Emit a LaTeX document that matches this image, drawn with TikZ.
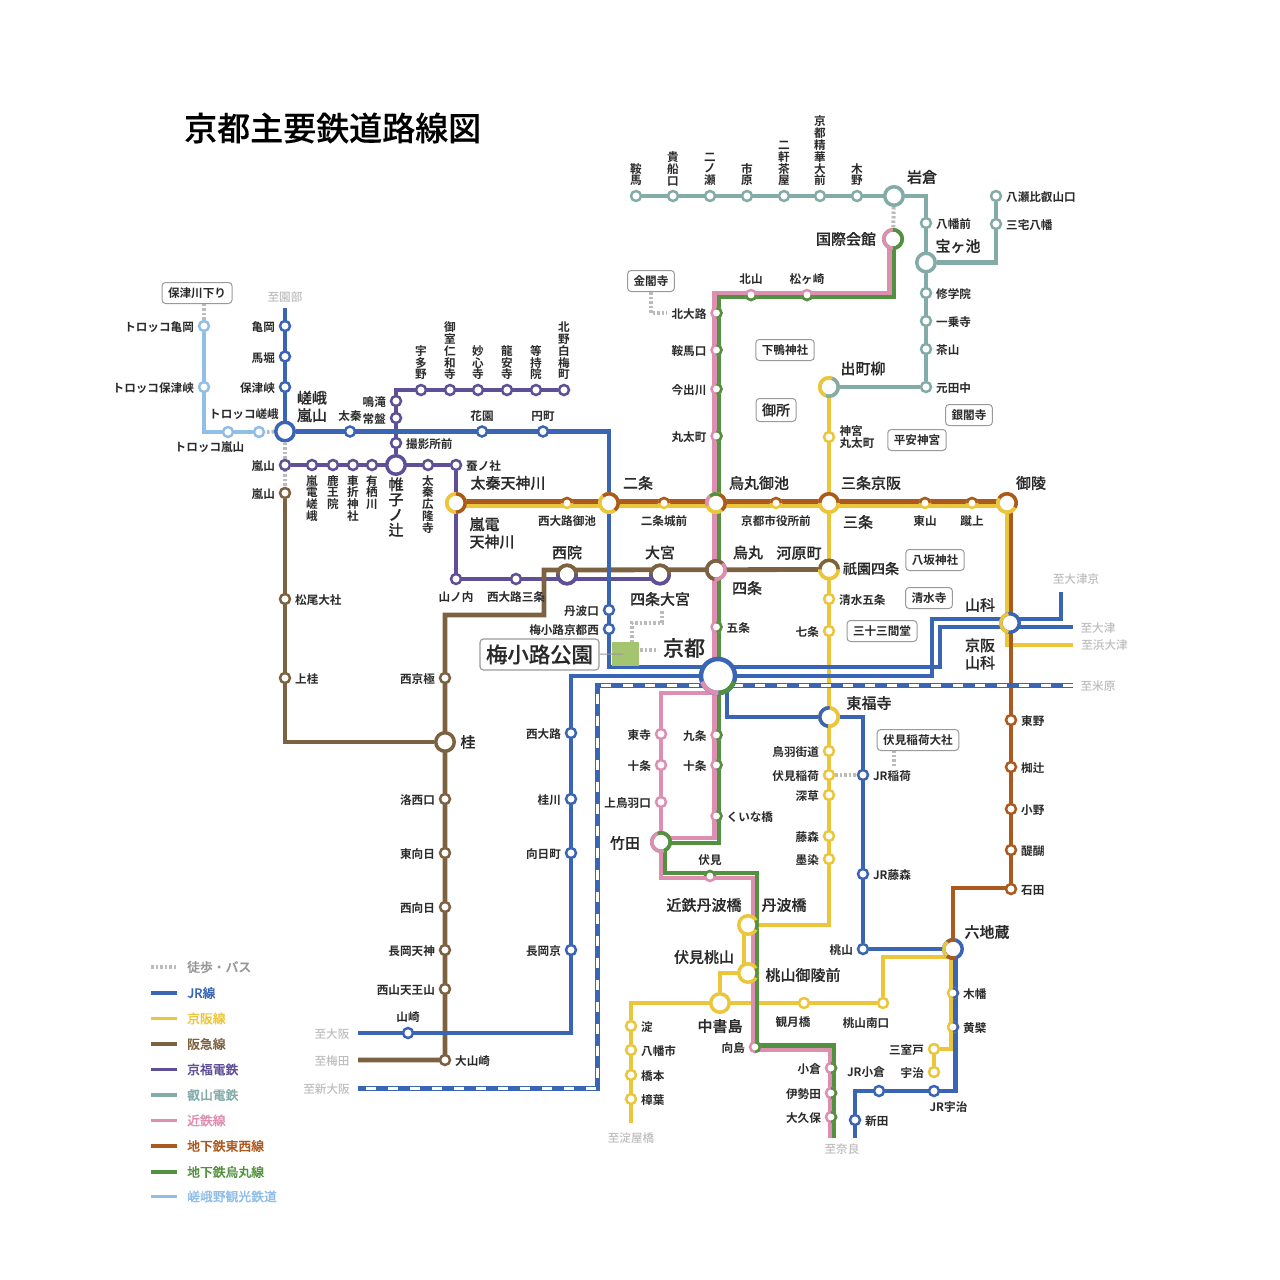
\documentclass[tikz,border=0pt]{standalone}
\usepackage{fontspec}
\setmainfont{Noto Sans CJK JP Medium}[BoldFont=Noto Sans CJK JP Bold]
\newfontface\heavyf{Noto Sans CJK JP Medium}[FakeBold=0.25]
\usepackage{tikz}
\usetikzlibrary{calc,positioning,backgrounds}

\definecolor{jrblue}{HTML}{3A65B5}
\definecolor{keihan}{HTML}{ECC63A}
\definecolor{hankyu}{HTML}{7D6242}
\definecolor{randen}{HTML}{5F4F97}
\definecolor{eizan}{HTML}{83ABA8}
\definecolor{kintetsu}{HTML}{DE8EB1}
\definecolor{tozai}{HTML}{AB5A1F}
\definecolor{karasuma}{HTML}{52913F}
\definecolor{sagano}{HTML}{90BEE6}
\definecolor{dest}{HTML}{BDBDBD}
\definecolor{walkway}{HTML}{BBBBBB}
\definecolor{boxline}{HTML}{9A9A9A}
\definecolor{labeltext}{HTML}{2A2A2A}
\definecolor{parkgreen}{HTML}{A4C46F}

\newcommand{\smallf}{\fontsize{11.6}{11.8}\selectfont\bfseries}
\newcommand{\bigf}{\fontsize{15}{17.5}\selectfont\heavyf}
\newcommand{\ringpart}[6]{\draw[#6,line width=#3pt] ($(#1)+(#4:#2pt)$) arc[start angle=#4,end angle=#5,radius=#2pt];}

\tikzset{
	st/.style={circle,draw=#1,fill=white,line width=2.5pt,minimum size=10pt,inner sep=0pt},
	hub/.style={st=#1,line width=3.5pt,minimum size=18.5pt},
	rail/.style={draw=#1,line width=4.8pt,line join=miter},
	foot/.style={draw=walkway,line width=4pt,dash pattern=on 2.5pt off 2pt},
	lab/.style={font=\smallf,text=labeltext,align=center,inner sep=0pt},
	biglab/.style={font=\bigf,text=labeltext,align=center,inner sep=0pt},
	dest/.style={font=\fontsize{11.6}{12}\selectfont,text=dest,inner sep=0pt},
	spot/.style={draw=boxline,rounded corners=3.5pt,line width=1pt,fill=white,font=\smallf,text=labeltext,inner xsep=6pt,inner ysep=0pt,minimum height=21pt},
	every label/.style={lab,execute at begin node=\rule{0pt}{12.2pt}}
}

\begin{document}
\begin{tikzpicture}[x=1pt,y=-1pt,label distance=3.7pt]
	\useasboundingbox (0,0) rectangle (1280,1280);
	\node(title)[anchor=west,inner sep=0pt,font=\fontsize{33}{36}\selectfont\heavyf,text=black] at (184,128) {京都主要鉄道路線図};

	\node(tkameoka)[st=sagano,label=left:トロッコ亀岡] at (204,326) {};
	\node(thozukyo)[st=sagano,label=left:トロッコ保津峡] at (204,387) {};
	\node(tarashiyama)[st=sagano] at (228,432) {};
	\node(tsaga)[st=sagano] at (259,432) {};

	\node(kameoka)[st=jrblue,label=left:亀岡] at (285,326) {};
	\node(umahori)[st=jrblue,label=left:馬堀] at (285,356.5) {};
	\node(hozukyo)[st=jrblue,label=left:保津峡] at (285,387) {};
	\node(sagaarashiyama)[hub=jrblue] at (285,431.5) {};
	\node(uzumasa)[st=jrblue,label=above:太秦] at (350,431.5) {};
	\node(hanazono)[st=jrblue,label=above:花園] at (482,431.5) {};
	\node(emmachi)[st=jrblue,label=above:円町] at (543,431.5) {};
	\node(tambaguchi)[st=jrblue,label=left:丹波口] at (609,610) {};
	\node(umekojinishi)[st=jrblue,label=left:梅小路京都西] at (609,629) {};
	\node(nishioji)[st=jrblue,label=left:西大路] at (571,733) {};
	\node(katsuragawa)[st=jrblue,label=left:桂川] at (571,799) {};
	\node(mukomachi)[st=jrblue,label=left:向日町] at (571,853) {};
	\node(nagaokakyo)[st=jrblue,label=left:長岡京] at (571,950) {};
	\node(yamazaki)[st=jrblue,label=above:山崎] at (408,1033) {};
	\node(jrinari)[st=jrblue,label=right:JR稲荷] at (863,775) {};
	\node(jrfuji)[st=jrblue,label=right:JR藤森] at (863,874) {};
	\node(momoyama)[st=jrblue,label=left:桃山] at (863,949) {};
	\node(jruji)[st=jrblue] at (934,1091) {};
	\node(jrogura)[st=jrblue] at (879,1091) {};
	\node(shinden)[st=jrblue,label=right:新田] at (855,1120) {};

	\node(rarashiyama)[st=randen,label=left:嵐山] at (285,465) {};
	\node(randensaga)[st=randen,label={below:嵐\\電\\嵯\\峨}] at (312,465) {};
	\node(rokuoin)[st=randen,label={below:鹿\\王\\院}] at (333,465) {};
	\node(kurumazaki)[st=randen,label={below:車\\折\\神\\社}] at (353,465) {};
	\node(arisugawa)[st=randen,label={below:有\\栖\\川}] at (372,465) {};
	\node(katabira)[hub=randen] at (396,465) {};
	\node(koryuji)[st=randen,label={below:太\\秦\\広\\隆\\寺}] at (428,465) {};
	\node(kaiko)[st=randen,label=right:蚕ノ社] at (456,465) {};
	\node(satsueisho)[st=randen,label=right:撮影所前] at (396,443) {};
	\node(tokiwa)[st=randen,label=left:常盤] at (396,418) {};
	\node(narutaki)[st=randen,label=left:鳴滝] at (396,401) {};
	\node(utano)[st=randen,label={above:宇\\多\\野}] at (421,390) {};
	\node(omuro)[st=randen,label={above:御\\室\\仁\\和\\寺}] at (450,390) {};
	\node(myoshinji)[st=randen,label={above:妙\\心\\寺}] at (478,390) {};
	\node(ryoanji)[st=randen,label={above:龍\\安\\寺}] at (507,390) {};
	\node(tojiin)[st=randen,label={above:等\\持\\院}] at (536,390) {};
	\node(hakubai)[st=randen,label={above:北\\野\\白\\梅\\町}] at (564,390) {};
	\node(yamanouchi)[st=randen,label=below:山ノ内] at (456,579) {};
	\node(nishisanjo)[st=randen,label=below:西大路三条] at (516,579) {};

	\node(harashiyama)[st=hankyu,label=left:嵐山] at (285,493) {};
	\node(matsuo)[st=hankyu,label=right:松尾大社] at (285,599) {};
	\node(kamikatsura)[st=hankyu,label=right:上桂] at (285,678) {};
	\node(katsura)[hub=hankyu] at (445,742) {};
	\node(nishikyogoku)[st=hankyu,label=left:西京極] at (445,678) {};
	\node(rakusai)[st=hankyu,label=left:洛西口] at (445,799) {};
	\node(higashimuko)[st=hankyu,label=left:東向日] at (445,853) {};
	\node(nishimuko)[st=hankyu,label=left:西向日] at (445,907) {};
	\node(nagaokatenjin)[st=hankyu,label=left:長岡天神] at (445,950) {};
	\node(tennozan)[st=hankyu,label=left:西山天王山] at (445,989) {};
	\node(oyamazaki)[st=hankyu,label=right:大山崎] at (445,1060) {};

	\node(kurama)[st=eizan,label={above:鞍\\馬}] at (636,196) {};
	\node(kibune)[st=eizan,label={above:貴\\船\\口}] at (673,196) {};
	\node(ninose)[st=eizan,label={above:二\\ノ\\瀬}] at (710,196) {};
	\node(ichihara)[st=eizan,label={above:市\\原}] at (747,196) {};
	\node(nikenchaya)[st=eizan,label={above:二\\軒\\茶\\屋}] at (784,196) {};
	\node(seika)[st=eizan,label={above:京\\都\\精\\華\\大\\前}] at (820,196) {};
	\node(kino)[st=eizan,label={above:木\\野}] at (857,196) {};
	\node(iwakura)[hub=eizan] at (894,196) {};
	\node(hachimanmae)[st=eizan,label=right:八幡前] at (926,223) {};
	\node(takaragaike)[hub=eizan] at (926,262.5) {};
	\node(shugakuin)[st=eizan,label=right:修学院] at (926,293) {};
	\node(ichijoji)[st=eizan,label=right:一乗寺] at (926,321) {};
	\node(chayama)[st=eizan,label=right:茶山] at (926,349) {};
	\node(mototanaka)[st=eizan,label=right:元田中] at (926,387) {};
	\node(miyake)[st=eizan,label=right:三宅八幡] at (996,224) {};
	\node(yase)[st=eizan,label=right:八瀬比叡山口] at (996,196) {};

	\node(kokusai)[hub=karasuma] at (893,239) {};
	\node(kitayama)[st=kintetsu,label=above:北山] at (751,295) {};
	\node(matsugasaki)[st=kintetsu,label=above:松ヶ崎] at (807,295) {};
	\node(kitaoji)[st=kintetsu,label=left:北大路] at (716.5,313) {};
	\node(kuramaguchi)[st=kintetsu,label=left:鞍馬口] at (716.5,350) {};
	\node(imadegawa)[st=kintetsu,label=left:今出川] at (716.5,389) {};
	\node(marutamachi)[st=kintetsu,label=left:丸太町] at (716.5,436) {};
	\node(gojo)[st=kintetsu,label=right:五条] at (716.5,627) {};
	\node(kujo)[st=kintetsu,label=left:九条] at (716.5,735) {};
	\node(jujo)[st=kintetsu,label=left:十条] at (716.5,765) {};
	\node(kuinabashi)[st=kintetsu,label=right:くいな橋] at (716.5,816) {};
	\node(toji)[st=kintetsu,label=left:東寺] at (661,734) {};
	\node(kjujo)[st=kintetsu,label=left:十条] at (661,765) {};
	\node(kamitoba)[st=kintetsu,label=left:上鳥羽口] at (661,802) {};
	\node(takeda)[hub=karasuma] at (661,842) {};
	\node(fushimi)[st=kintetsu,label=above:伏見] at (710,876) {};
	\node(mukaijima)[st=kintetsu,label=left:向島] at (755,1047) {};
	\node(ogura)[st=kintetsu,label=left:小倉] at (831,1068) {};
	\node(iseda)[st=kintetsu,label=left:伊勢田] at (831,1093) {};
	\node(okubo)[st=kintetsu,label=left:大久保] at (831,1117) {};

	\node(taizo)[hub=keihan] at (456,503) {};
	\node(nijo)[hub=keihan] at (609,503) {};
	\node(oike)[hub=keihan] at (716,503) {};
	\node(sanjo)[hub=keihan] at (829,503) {};
	\node(goryo)[hub=keihan] at (1007,503) {};
	\node(nishioike)[st=keihan,label=below:西大路御池] at (567,503) {};
	\node(nijojo)[st=keihan,label=below:二条城前] at (664,503) {};
	\node(shiyakusho)[st=keihan,label=below:京都市役所前] at (776,503) {};
	\node(higashiyama)[st=keihan,label=below:東山] at (925,503) {};
	\node(keage)[st=keihan,label=below:蹴上] at (972,503) {};
	\node(demachi)[hub=keihan] at (829,387) {};
	\node(jingu)[st=keihan] at (829,437) {};
	\node(saiin)[hub=hankyu] at (567,574.5) {};
	\node(omiya)[hub=hankyu] at (660,574.5) {};
	\node(karasumast)[hub=hankyu] at (716,570) {};
	\node(kawaramachi)[hub=keihan] at (829,569.5) {};
	\node(kiyomizu)[st=keihan,label=right:清水五条] at (829,599) {};
	\node(shichijo)[st=keihan,label=left:七条] at (829,631) {};
	\node(yamashina)[hub=jrblue] at (1010,623) {};
	\node(tofukuji)[hub=keihan] at (829,717) {};
	\node(toba)[st=keihan,label=left:鳥羽街道] at (829,751) {};
	\node(fushimiinari)[st=keihan,label=left:伏見稲荷] at (829,775) {};
	\node(fukakusa)[st=keihan,label=left:深草] at (829,795) {};
	\node(fujinomori)[st=keihan,label=left:藤森] at (829,836) {};
	\node(sumizome)[st=keihan,label=left:墨染] at (829,859) {};
	\node(tanbabashi)[hub=keihan] at (748,925) {};
	\node(momogoryo)[hub=keihan] at (748,973) {};
	\node(chushojima)[hub=keihan] at (720,1003) {};
	\node(kangetsukyo)[st=keihan] at (804,1003) {};
	\node(momonan)[st=keihan] at (883,1003) {};
	\node(yodo)[st=keihan,label=right:淀] at (631,1026) {};
	\node(yawata)[st=keihan,label=right:八幡市] at (631,1050) {};
	\node(hashimoto)[st=keihan,label=right:橋本] at (631,1075) {};
	\node(kuzuha)[st=keihan,label=right:樟葉] at (631,1099) {};
	\node(rokujizo)[hub=jrblue] at (953,949) {};
	\node(kowata)[st=keihan,label=right:木幡] at (953,993) {};
	\node(obaku)[st=keihan,label=right:黄檗] at (953,1027) {};
	\node(mimurodo)[st=keihan,label=left:三室戸] at (934,1049) {};
	\node(uji)[st=keihan,label=left:宇治] at (934,1072) {};

	\node(higashino)[st=tozai,label=right:東野] at (1011,720) {};
	\node(nagi)[st=tozai,label=right:椥辻] at (1011,767) {};
	\node(ono)[st=tozai,label=right:小野] at (1011,809) {};
	\node(daigo)[st=tozai,label=right:醍醐] at (1011,850) {};
	\node(ishida)[st=tozai,label=right:石田] at (1011,889) {};

	\node(kyoto)[circle,draw=jrblue,fill=white,line width=4.5pt,minimum size=34pt,inner sep=0pt] at (718,676) {};

	\node(hozugawa)[spot] at (197,293) {保津川下り};
	\node(kinkakuji)[spot] at (651,281) {金閣寺};
	\node(shimogamo)[spot] at (785,350) {下鴨神社};
	\node(gosho)[spot,font=\fontsize{14}{15}\selectfont\heavyf,minimum height=23pt] at (776,410) {御所};
	\node(ginkakuji)[spot] at (969,415) {銀閣寺};
	\node(heian)[spot] at (917,440) {平安神宮};
	\node(yasaka)[spot] at (935,560) {八坂神社};
	\node(kiyomizudera)[spot] at (929,598) {清水寺};
	\node(sanjusan)[spot] at (882,631) {三十三間堂};
	\node(fushimitaisha)[spot] at (918,740) {伏見稲荷大社};
	\node(umekoji)[spot,font=\fontsize{21.4}{23}\selectfont\heavyf,line width=1.2pt,minimum height=31pt] at (539.5,654.5) {梅小路公園};
	\node(umepark)[fill=parkgreen,inner sep=0pt,minimum width=27pt,minimum height=24pt] at (625.5,654) {};

	\coordinate(parkend) at (623,654);
	\draw[boxline,line width=1pt] (umekoji) -- (parkend);

	\begin{scope}[on background layer]
		\coordinate(jrtop) at (285,308);
		\coordinate(jc1) at (940,667);
		\coordinate(jreast) at (1073,627);
		\coordinate(jrotsu) at (1061,592);
		\coordinate(jr1) at (932,619);
		\coordinate(jr2) at (571,676);
		\coordinate(jroosaka) at (358,1033);
		\coordinate(jr3) at (727,690);
		\coordinate(jr4) at (955.5,949);
		\coordinate(jr5) at (855,1091);
		\coordinate(jrnara) at (855,1138);
		\coordinate(shin1) at (1073,685.5);
		\coordinate(shin2) at (597,685.5);
		\coordinate(shin3) at (358,1088);
		\coordinate(hk1) at (544,570);
		\coordinate(hk2) at (445,615);
		\coordinate(hk3) at (358,1060);
		\coordinate(rd1) at (660,579);
		\coordinate(ky1) at (456,506);
		\coordinate(ky2) at (1007.5,506);
		\coordinate(ky3) at (1073,645);
		\coordinate(ky4) at (951,949);
		\coordinate(ky5) at (951,957);
		\coordinate(ky6) at (631,1123);
		\coordinate(to1) at (456,501.5);
		\coordinate(to2) at (1011,501.5);
		\coordinate(to3) at (953,888);
		\coordinate(kp0) at (889.5,239);
		\coordinate(kp1) at (714.5,293);
		\coordinate(kp2) at (661,838);
		\coordinate(kp3) at (714,693);
		\coordinate(kp4) at (753,878);
		\coordinate(kp5) at (830,1050);
		\coordinate(kp6) at (830,1138);
		\coordinate(kg0) at (894,239);
		\coordinate(kg1) at (719,297);
		\coordinate(kg2) at (665,843);
		\coordinate(kg3) at (757,873);
		\coordinate(kg4) at (834,1045.5);
		\coordinate(kg5) at (834,1138);
		\coordinate(kinend) at (667,313);
		\coordinate(inariend) at (894,766);
		\coordinate(w1) at (632,642);
		\coordinate(w2) at (662,622.5);
		\coordinate(w3) at (662,610);
		\coordinate(w4) at (640,650);
		\coordinate(w5) at (658,650);

		\draw[foot] (tkameoka) -- (tkameoka |- hozugawa.south);
		\draw[foot] (sagaarashiyama) -- (tsaga);
		\draw[foot] (sagaarashiyama) -- (harashiyama);
		\draw[foot] (iwakura) -- (kokusai);
		\draw[foot] (kinkakuji) |- (kinend);
		\draw[foot] (fushimiinari) -- (jrinari);
		\draw[foot] (inariend) -- (inariend |- fushimitaisha.south);
		\draw[foot] (w1) |- (w2) -- (w3);
		\draw[foot] (w4) -- (w5);

		\draw[rail=sagano] (tkameoka) |- (tsaga);
		\draw[rail=eizan] (kurama) -| (mototanaka);
		\draw[rail=eizan] (mototanaka) -- (demachi);
		\draw[rail=eizan] (takaragaike) -| (yase);
		\draw[rail=randen] (rarashiyama) -- (kaiko);
		\draw[rail=randen] (kaiko) |- (rd1);
		\draw[rail=randen] (katabira) |- (hakubai);
		\draw[rail=hankyu] (kawaramachi) -- (hk1) |- (hk2) |- (hk3);
		\draw[rail=hankyu] (katsura) -| (harashiyama);

		\draw[rail=keihan] (demachi) |- (tanbabashi);
		\draw[rail=keihan] (ky1) -- (ky2) |- (ky3);
		\draw[rail=keihan] (ky4) |- (mimurodo) -- (uji);
		\draw[rail=keihan] (ky5) -| (momonan);
		\draw[rail=keihan] (momonan) -| (ky6);
		\draw[rail=keihan] (chushojima) |- (momogoryo);
		\draw[rail=keihan] ([xshift=-4pt]tanbabashi.center) -- ([xshift=-4pt]momogoryo.center);
		\draw[rail=tozai] (to1) -- (to2) |- (to3) -- (rokujizo);

		\draw[rail=kintetsu] (kp0) |- (kp1) |- (kp2);
		\draw[rail=kintetsu] (kp3) -| (takeda);
		\draw[rail=kintetsu] (takeda) |- (kp4) |- (kp5) -- (kp6);
		\draw[rail=karasuma] (kg0) |- (kg1) |- (kg2) |- (kg3) |- (kg4) -- (kg5);

		\draw[rail=jrblue] (jrtop) -- (sagaarashiyama);
		\draw[rail=jrblue] (sagaarashiyama) -| (nijo);
		\draw[rail=jrblue] (nijo) |- (jc1) |- (jreast);
		\draw[rail=jrblue] (jrotsu) |- (jr1) |- (jr2) |- (jroosaka);
		\draw[rail=jrblue] (jr3) |- (tofukuji);
		\draw[rail=jrblue] (tofukuji) -| (momoyama);
		\draw[rail=jrblue] (momoyama) -- (rokujizo);
		\draw[rail=jrblue] (jr4) |- (jr5) -- (jrnara);

		\draw[rail=jrblue,line width=5pt] (shin1) -- (shin2) |- (shin3);
		\draw[white,line width=3pt,dash pattern=on 10pt off 12pt] (shin1) -- (shin2) |- (shin3);
	\end{scope}

	\ringpart{taizo}{9.25}{3.5}{90}{270}{keihan}
	\ringpart{taizo}{9.25}{3.5}{-90}{90}{tozai}
	\ringpart{nijo}{9.25}{3.5}{130}{310}{keihan}
	\ringpart{nijo}{9.25}{3.5}{-50}{130}{tozai}
	\ringpart{oike}{9.25}{3.5}{130}{200}{kintetsu}
	\ringpart{oike}{9.25}{3.5}{200}{310}{keihan}
	\ringpart{oike}{9.25}{3.5}{-50}{70}{tozai}
	\ringpart{oike}{9.25}{3.5}{70}{130}{karasuma}
	\ringpart{sanjo}{9.25}{3.5}{0}{180}{tozai}
	\ringpart{sanjo}{9.25}{3.5}{180}{360}{keihan}
	\ringpart{goryo}{9.25}{3.5}{-30}{150}{tozai}
	\ringpart{goryo}{9.25}{3.5}{150}{330}{keihan}
	\ringpart{saiin}{9.25}{3.5}{0}{180}{hankyu}
	\ringpart{saiin}{9.25}{3.5}{180}{360}{randen}
	\ringpart{omiya}{9.25}{3.5}{0}{180}{hankyu}
	\ringpart{omiya}{9.25}{3.5}{180}{360}{randen}
	\ringpart{karasumast}{9.25}{3.5}{45}{260}{hankyu}
	\ringpart{karasumast}{9.25}{3.5}{-100}{45}{kintetsu}
	\ringpart{kawaramachi}{9.25}{3.5}{0}{180}{hankyu}
	\ringpart{kawaramachi}{9.25}{3.5}{180}{360}{keihan}
	\ringpart{demachi}{9.25}{3.5}{70}{250}{keihan}
	\ringpart{demachi}{9.25}{3.5}{-110}{70}{eizan}
	\ringpart{kokusai}{9.25}{3.5}{90}{270}{kintetsu}
	\ringpart{kokusai}{9.25}{3.5}{-90}{90}{karasuma}
	\ringpart{tofukuji}{9.25}{3.5}{85}{265}{jrblue}
	\ringpart{tofukuji}{9.25}{3.5}{-95}{85}{keihan}
	\ringpart{yamashina}{9.25}{3.5}{100}{260}{keihan}
	\ringpart{takeda}{9.25}{3.5}{110}{290}{kintetsu}
	\ringpart{takeda}{9.25}{3.5}{-70}{110}{karasuma}
	\ringpart{tanbabashi}{9.25}{3.5}{-30}{30}{karasuma}
	\ringpart{momogoryo}{9.25}{3.5}{-30}{30}{karasuma}
	\ringpart{rokujizo}{9.25}{3.5}{70}{130}{tozai}
	\ringpart{rokujizo}{9.25}{3.5}{130}{230}{keihan}
	\ringpart{rokujizo}{9.25}{3.5}{230}{290}{tozai}
	\ringpart{kyoto}{17}{4.5}{200}{272}{kintetsu}
	\ringpart{kyoto}{17}{4.5}{272}{340}{karasuma}
	\foreach \nd in {kitaoji,kuramaguchi,imadegawa,marutamachi,gojo,kujo,jujo,kuinabashi,ogura,iseda,okubo,mukaijima}{
		\ringpart{\nd}{5}{2.5}{-90}{90}{karasuma}
	}
	\foreach \nd in {kitayama,matsugasaki}{
		\ringpart{\nd}{5}{2.5}{180}{360}{karasuma}
	}
	\ringpart{fushimi}{5}{2.5}{0}{180}{karasuma}
	\foreach \nd in {nishioike,nijojo,shiyakusho,higashiyama,keage}{
		\ringpart{\nd}{5}{2.5}{0}{180}{tozai}
	}
	\foreach \nd in {kowata,obaku}{
		\ringpart{\nd}{5}{2.5}{-90}{90}{jrblue}
	}

	\node(sagat)[biglab,align=left] at (312,406.5) {嵯峨\\嵐山};
	\node(katabirat)[biglab,font=\fontsize{15}{15.2}\selectfont\heavyf] at (396,507) {帷\\子\\ノ\\辻};
	\node(taizot)[biglab] at (508,483) {太秦天神川};
	\node(randent)[biglab,align=left] at (492,533) {嵐電\\天神川};
	\node(nijot)[biglab] at (638,483) {二条};
	\node(oiket)[biglab] at (759,483) {烏丸御池};
	\node(sanjot)[biglab] at (871,483) {三条京阪};
	\node(goryot)[biglab] at (1031,483) {御陵};
	\node(sanjot2)[biglab] at (858,522) {三条};
	\node(saiint)[biglab] at (567,552.5) {西院};
	\node(omiyat)[biglab] at (660,552.5) {大宮};
	\node(karasumat)[biglab] at (748,552.5) {烏丸};
	\node(kawarat)[biglab] at (799,553) {河原町};
	\node(shijot)[biglab] at (747,588) {四条};
	\node(gionl)[biglab,font=\fontsize{14}{15}\selectfont\heavyf] at (871,568.5) {祇園四条};
	\node(shijoo)[biglab] at (660,599) {四条大宮};
	\node(kyotot)[biglab,font=\fontsize{21}{23}\selectfont\heavyf] at (684,648) {京都};
	\node(yamat)[biglab] at (980,605) {山科};
	\node(yamakt)[biglab] at (980,654) {京阪\\山科};
	\node(tofut)[biglab] at (869,703) {東福寺};
	\node(iwat)[biglab] at (922,177) {岩倉};
	\node(kokut)[biglab] at (846,239) {国際会館};
	\node(takat)[biglab] at (958,246) {宝ヶ池};
	\node(demat)[biglab] at (863,368.5) {出町柳};
	\node(katsut)[biglab] at (468,742) {桂};
	\node(taket)[biglab] at (625,843) {竹田};
	\node(ktanbat)[biglab] at (704,905) {近鉄丹波橋};
	\node(tanbat)[biglab] at (784,905) {丹波橋};
	\node(fmomot)[biglab] at (704,957) {伏見桃山};
	\node(momogt)[biglab] at (803,975) {桃山御陵前};
	\node(chusht)[biglab] at (720,1026) {中書島};
	\node(rokut)[biglab] at (987,932) {六地蔵};
	\node(jinguil)[lab,align=left] at (857,437) {神宮\\丸太町};
	\node(tarashil)[lab] at (209.5,447.5) {トロッコ嵐山};
	\node(tsagal)[lab] at (244,414) {トロッコ嵯峨};
	\node(jrogural)[lab] at (866,1072) {JR小倉};
	\node(jrujil)[lab] at (948.5,1107) {JR宇治};
	\node(kangetsul)[lab] at (793,1022.5) {観月橋};
	\node(momonanl)[lab] at (866,1023) {桃山南口};

	\node(sonobe)[dest] at (285,297) {至園部};
	\node(otsukyo)[dest] at (1076,579.5) {至大津京};
	\node(otsu)[dest] at (1098,628) {至大津};
	\node(hamaotsu)[dest] at (1104.5,645) {至浜大津};
	\node(maibara)[dest] at (1098,686) {至米原};
	\node(osaka)[dest] at (332,1034) {至大阪};
	\node(umeda)[dest] at (332,1061) {至梅田};
	\node(shinosaka)[dest] at (326.5,1089) {至新大阪};
	\node(yodoyabashi)[dest] at (631,1138) {至淀屋橋};
	\node(nara)[dest] at (842,1149) {至奈良};

	\coordinate(lg0a) at (151,967);
	\coordinate(lg0b) at (177,967);
	\draw[foot,line width=3.5pt] (lg0a) -- (lg0b);
	\node(lg0)[anchor=west,inner sep=0pt,font=\fontsize{12.8}{13}\selectfont\heavyf,text=walkway!80!black] at (187,967) {徒歩・バス};
	\foreach \i/\cc/\tx/\yy in {1/jrblue/JR線/993,2/keihan/京阪線/1018.5,3/hankyu/阪急線/1044,4/randen/京福電鉄/1069.5,5/eizan/叡山電鉄/1095,6/kintetsu/近鉄線/1120.5,7/tozai/地下鉄東西線/1146,8/karasuma/地下鉄烏丸線/1172,9/sagano/嵯峨野観光鉄道/1196.5}{
		\coordinate(lg\i a) at (151,\yy);
		\coordinate(lg\i b) at (177,\yy);
		\draw[color=\cc,line width=3.5pt] (lg\i a) -- (lg\i b);
		\node(lg\i)[anchor=west,inner sep=0pt,font=\fontsize{12.8}{13}\selectfont\heavyf,text=\cc] at (187,\yy) {\tx};
	}
\end{tikzpicture}
\end{document}
